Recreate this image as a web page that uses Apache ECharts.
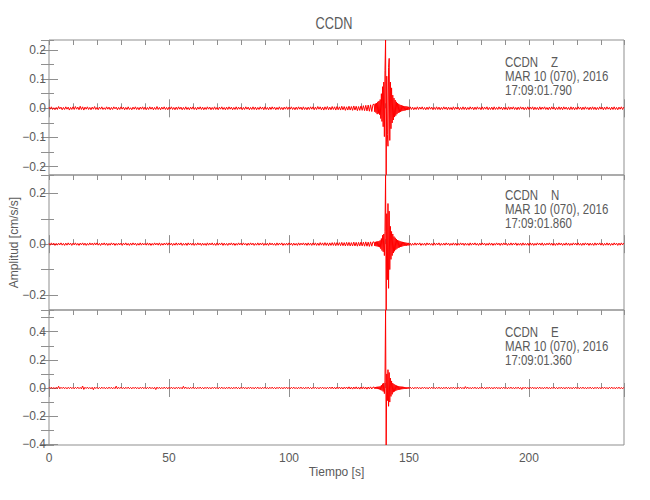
<!DOCTYPE html>
<html><head><meta charset="utf-8">
<script src="https://cdn.jsdelivr.net/npm/echarts@6/dist/echarts.min.js"></script>
<style>html,body{margin:0;padding:0;background:#fff}#c{width:650px;height:500px}</style>
</head><body><div id="c"></div>
<script>
// ---------------- data ----------------
const stationName = 'CCDN';
const channels = ['Z', 'N', 'E'];
const dateText = 'MAR 10 (070), 2016';
const startTimes = ['17:09:01.790', '17:09:01.860', '17:09:01.360'];
const xAxisTitle = 'Tiempo [s]';
const yAxisTitle = 'Amplitud [cm/s/s]';

const xMin = 0, xMax = 239.6;
const xMajorStep = 50, xMinorStep = 10;
const yMins = [-0.2285, -0.2593, -0.405];
const yMaxs = [0.234, 0.2723, 0.554];
const yMajorSteps = [0.1, 0.2, 0.2];
const yMinorSteps = [0.05, 0.1, 0.1];

// sampling of the three trace segments (s)
const preStart = 0, preDt = 0.5;
const eventStart = 135.5, eventDt = 0.25;
const postStart = 150.5, postDt = 0.5;

// Z component (cm/s/s)
const zPre = [
.004,-.003,.005,-.004,.002,-.005,.003,-.004,.006,-.002,.004,-.005,.003,-.004,.005,-.003,.004,-.006,.003,-.004,
.005,-.004,.006,-.003,.004,-.005,.007,-.004,.005,-.006,.004,-.003,.005,-.004,.003,-.005,.004,-.003,.006,-.004,
.003,-.005,.004,-.003,.005,-.004,.002,-.004,.005,-.003,.004,-.005,.003,-.004,.005,-.002,.004,-.005,.003,-.004,
.005,-.003,.004,-.005,.003,-.004,.005,-.004,.002,-.005,.004,-.003,.005,-.004,.003,-.005,.004,-.003,.005,-.004,
.004,-.005,.003,-.004,.005,-.003,.004,-.005,.003,-.004,.006,-.004,.003,-.005,.004,-.003,.005,-.004,.003,-.005,
.004,-.003,.005,-.004,.003,-.005,.004,-.004,.005,-.003,.004,-.005,.003,-.004,.005,-.004,.003,-.005,.004,-.003,
.005,-.004,.003,-.005,.004,-.003,.005,-.004,.004,-.005,.003,-.004,.005,-.003,.004,-.005,.003,-.004,.005,-.004,
.003,-.005,.004,-.003,.005,-.004,.003,-.005,.004,-.004,.005,-.003,.004,-.005,.003,-.004,.005,-.004,.004,-.003,
.004,-.005,.003,-.004,.005,-.003,.004,-.005,.003,-.004,.005,-.004,.004,-.005,.003,-.004,.005,-.003,.004,-.005,
.005,-.004,.003,-.005,.004,-.004,.005,-.003,.004,-.005,.003,-.004,.005,-.004,.003,-.005,.004,-.003,.005,-.004,
.004,-.003,.005,-.004,.003,-.005,.004,-.004,.005,-.003,.004,-.005,.005,-.004,.003,-.005,.004,-.004,.005,-.003,
.005,-.005,.004,-.004,.006,-.003,.005,-.005,.004,-.006,.005,-.004,.006,-.005,.004,-.005,.006,-.004,.005,-.006,
.006,-.005,.005,-.006,.007,-.005,.006,-.007,.005,-.006,.007,-.006,.006,-.007,.008,-.006,.007,-.008,.006,-.007,
.008,-.007,.009,-.008,.010,-.009,.011,-.010,.012,-.011,.013];
const zEvent = [
.014,-.012,.016,-.015,.018,-.020,.022,-.018,.025,-.022,
.030,-.035,.050,-.045,.074,-.063,.090,-.097,.130,.234,
-.228,.110,-.090,-.130,.140,.171,-.110,.090,-.070,.070,
-.050,.045,-.040,.035,-.030,.028,-.025,.022,-.020,.018,
-.016,.015,-.014,.012,-.012,.011,-.010,.009,-.009,.008,
-.008,.007,-.007,.007,-.006,.006,-.006,.005,-.005];
const zPost = [
.005,-.004,.004,-.005,.003,-.004,.005,-.004,.004,-.003,.005,-.004,.003,-.005,.004,-.004,.005,-.003,.004,-.005,
.003,-.004,.005,-.004,.004,-.005,.003,-.004,.005,-.003,.004,-.005,.004,-.004,.003,-.005,.005,-.004,.004,-.003,
.004,-.005,.003,-.004,.005,-.004,.004,-.005,.003,-.004,.005,-.003,.004,-.005,.004,-.004,.005,-.003,.003,-.005,
.005,-.004,.004,-.003,.005,-.005,.003,-.004,.004,-.005,.005,-.004,.003,-.004,.005,-.003,.004,-.005,.004,-.004,
.003,-.005,.005,-.004,.004,-.003,.005,-.004,.003,-.005,.004,-.004,.005,-.003,.004,-.005,.003,-.004,.005,-.004,
.004,-.003,.005,-.005,.004,-.004,.003,-.005,.005,-.004,.004,-.003,.005,-.004,.003,-.005,.004,-.004,.005,-.003,
.004,-.005,.003,-.004,.005,-.004,.004,-.005,.005,-.003,.004,-.004,.003,-.005,.005,-.004,.004,-.005,.003,-.004,
.005,-.003,.004,-.005,.004,-.004,.005,-.003,.003,-.005,.004,-.004,.005,-.004,.004,-.005,.003,-.004,.005,-.003,
.004,-.005,.004,-.004,.005,-.003,.003,-.005,.004,-.004,.005,-.004,.003,-.005,.004,-.003,.005,-.004,.004];

// N component
const nPre = [
.003,-.004,.005,-.003,.004,-.005,.003,-.004,.004,-.003,.005,-.004,.003,-.005,.004,-.004,.005,-.003,.004,-.005,
.004,-.003,.005,-.004,.003,-.005,.004,-.003,.005,-.004,.004,-.005,.003,-.004,.005,-.003,.004,-.004,.005,-.003,
.005,-.004,.003,-.005,.004,-.003,.005,-.004,.004,-.005,.003,-.004,.005,-.003,.004,-.005,.003,-.004,.004,-.003,
.004,-.005,.004,-.003,.005,-.004,.003,-.005,.004,-.004,.005,-.003,.004,-.005,.003,-.004,.005,-.004,.004,-.003,
.003,-.004,.005,-.004,.004,-.005,.003,-.004,.005,-.003,.004,-.004,.005,-.005,.003,-.004,.004,-.003,.005,-.004,
.005,-.003,.004,-.005,.003,-.004,.005,-.004,.004,-.003,.005,-.005,.003,-.004,.004,-.005,.005,-.003,.004,-.004,
.004,-.005,.003,-.004,.005,-.003,.004,-.005,.004,-.004,.003,-.005,.005,-.004,.004,-.003,.005,-.004,.003,-.005,
.005,-.004,.004,-.003,.005,-.005,.004,-.004,.003,-.005,.004,-.003,.005,-.004,.004,-.005,.003,-.004,.005,-.003,
.004,-.004,.005,-.003,.003,-.005,.004,-.004,.005,-.003,.004,-.005,.003,-.004,.005,-.004,.004,-.003,.005,-.005,
.003,-.004,.004,-.005,.005,-.003,.004,-.004,.003,-.005,.005,-.004,.004,-.003,.005,-.005,.003,-.004,.004,-.004,
.005,-.003,.004,-.005,.004,-.004,.003,-.005,.005,-.004,.004,-.003,.005,-.004,.004,-.005,.005,-.004,.004,-.005,
.005,-.004,.005,-.005,.004,-.005,.006,-.004,.005,-.005,.006,-.005,.005,-.006,.005,-.005,.006,-.005,.006,-.006,
.006,-.005,.006,-.006,.007,-.006,.006,-.007,.007,-.006,.007,-.007,.006,-.007,.008,-.007,.007,-.008,.007,-.007,
.008,-.007,.008,-.008,.009,-.008,.008,-.009,.009,-.008,.009];
const nEvent = [
.008,-.007,.009,-.008,.010,-.009,.011,-.010,.012,-.012,
.015,-.018,.022,-.025,.035,-.030,.040,-.045,.050,.272,
-.259,.120,-.140,.160,-.174,.130,-.100,.070,-.060,.050,
-.045,.040,-.035,.030,-.028,.025,-.022,.020,-.018,.016,
-.015,.014,-.013,.012,-.011,.010,-.010,.009,-.008,.008,
-.007,.007,-.006,.006,-.006,.005,-.005,.005,-.005];
const nPost = [
.004,-.005,.003,-.004,.005,-.004,.004,-.003,.005,-.005,.003,-.004,.004,-.005,.005,-.003,.004,-.004,.003,-.005,
.005,-.004,.004,-.003,.005,-.005,.003,-.004,.004,-.004,.005,-.003,.004,-.005,.003,-.004,.005,-.004,.004,-.005,
.003,-.004,.005,-.003,.004,-.005,.004,-.004,.003,-.005,.005,-.004,.004,-.003,.005,-.004,.003,-.005,.004,-.004,
.005,-.003,.004,-.005,.003,-.004,.005,-.004,.004,-.005,.003,-.004,.005,-.003,.004,-.005,.004,-.004,.005,-.003,
.004,-.005,.003,-.004,.005,-.004,.004,-.003,.005,-.005,.003,-.004,.004,-.005,.005,-.004,.003,-.004,.004,-.005,
.005,-.004,.004,-.005,.003,-.004,.005,-.003,.004,-.004,.005,-.005,.003,-.004,.004,-.003,.005,-.004,.004,-.005,
.003,-.005,.004,-.004,.005,-.003,.004,-.005,.003,-.004,.005,-.004,.004,-.005,.003,-.004,.005,-.003,.004,-.004,
.005,-.004,.003,-.005,.004,-.004,.005,-.003,.004,-.005,.004,-.004,.003,-.005,.005,-.004,.004,-.003,.005,-.004,
.004,-.005,.003,-.004,.005,-.004,.004,-.005,.003,-.004,.005,-.003,.004,-.005,.004,-.004,.005,-.003,.004];

// E component
const ePre = [
.005,-.004,.006,-.005,.004,-.006,.005,-.004,.012,-.006,.005,-.004,.006,-.005,.004,-.006,.005,-.004,.006,-.005,
.004,-.006,.005,-.004,.006,-.005,.004,-.006,.014,-.010,.005,-.004,.006,-.005,.004,-.006,.005,-.012,.006,-.004,
.005,-.006,.004,-.005,.006,-.004,.005,-.006,.004,-.005,.006,-.004,.005,-.006,.004,-.005,.013,-.006,.005,-.004,
.006,-.005,.004,-.006,.005,-.004,.006,-.005,.004,-.006,.005,-.004,.006,-.005,.004,-.006,.005,-.004,.006,-.005,
.004,-.006,.005,-.004,.006,-.005,.004,-.006,.005,-.011,.006,-.004,.005,-.006,.004,-.005,.006,-.004,.005,-.006,
.005,-.004,.006,-.005,.004,-.006,.005,-.004,.006,-.005,.004,-.006,.012,-.004,.006,-.005,.004,-.006,.005,-.004,
.006,-.005,.004,-.006,.005,-.004,.006,-.005,.004,-.006,.005,-.004,.006,-.005,.004,-.006,.005,-.004,.006,-.005,
.004,-.006,.005,-.004,.006,-.005,.004,-.006,.005,-.004,.006,-.005,.004,-.006,.005,-.004,.006,-.005,.004,-.006,
.005,-.004,.006,-.005,.004,-.006,.005,-.004,.006,-.005,.004,-.006,.005,-.004,.006,-.005,.004,-.006,.005,-.004,
.006,-.005,.004,-.006,.005,-.004,.006,-.005,.004,-.006,.005,-.004,.006,-.005,.004,-.006,.005,-.004,.006,-.005,
.004,-.006,.005,-.004,.006,-.005,.004,-.006,.005,-.004,.006,-.005,.004,-.006,.005,-.004,.006,-.005,.004,-.006,
.005,-.004,.006,-.005,.004,-.006,.005,-.004,.006,-.005,.004,-.006,.005,-.004,.006,-.005,.007,-.006,.005,-.007,
.006,-.005,.007,-.006,.005,-.007,.006,-.005,.007,-.006,.008,-.007,.006,-.008,.007,-.006,.008,-.007,.006,-.008,
.007,-.006,.008,-.007,.006,-.008,.007,-.006,.008,-.007,.006];
const eEvent = [
.006,-.005,.007,-.006,.008,-.007,.009,-.008,.010,-.010,
.012,-.015,.020,-.018,.030,-.025,.035,-.040,.050,.554,
-.405,.100,-.090,.130,-.130,.110,-.100,.070,-.060,.050,
-.045,.035,-.030,.028,-.025,.022,-.020,.018,-.016,.015,
-.014,.013,-.012,.011,-.010,.010,-.009,.009,-.008,.008,
-.007,.007,-.006,.006,-.006,.005,-.005,.005,-.005];
const ePost = [
.006,-.005,.004,-.006,.005,-.004,.006,-.005,.004,-.006,.005,-.004,.006,-.005,.004,-.006,.005,-.004,.006,-.005,
.004,-.006,.005,-.004,.006,-.005,.004,-.006,.005,-.004,.006,-.005,.004,-.006,.005,-.004,.006,-.005,.004,-.006,
.005,-.004,.006,-.005,.004,-.006,.010,-.004,.006,-.005,.004,-.006,.005,-.004,.006,-.005,.004,-.006,.005,-.004,
.006,-.005,.004,-.006,.005,-.004,.006,-.005,.004,-.006,.005,-.004,.006,-.005,.004,-.006,.005,-.004,.006,-.005,
.004,-.006,.005,-.004,.006,-.005,.004,-.006,.005,-.004,.006,-.005,.004,-.010,.005,-.004,.006,-.005,.004,-.006,
.005,-.004,.006,-.005,.004,-.006,.005,-.004,.006,-.005,.004,-.006,.005,-.004,.006,-.005,.004,-.006,.005,-.004,
.006,-.005,.004,-.006,.005,-.004,.006,-.005,.004,-.006,.005,-.004,.006,-.005,.004,-.006,.005,-.004,.006,-.005,
.004,-.006,.005,-.004,.006,-.005,.004,-.006,.005,-.004,.006,-.005,.004,-.006,.005,-.004,.006,-.005,.004,-.006,
.005,-.004,.006,-.005,.004,-.006,.005,-.004,.006,-.005,.004,-.006,.005,-.004,.006,-.005,.004,-.006,.005];

// ---------------- build ----------------
function segment(t0, dt, vals) { return vals.map((v, i) => [t0 + i * dt, v]); }
function trace(pre, ev, post) {
  return segment(preStart, preDt, pre)
    .concat(segment(eventStart, eventDt, ev))
    .concat(segment(postStart, postDt, post));
}
const traces = [trace(zPre, zEvent, zPost), trace(nPre, nEvent, nPost), trace(ePre, eEvent, ePost)];

const FONT = "'Liberation Sans', Arial, sans-serif";
const axisGray = '#8f8f8f';
const textGray = '#5a5a5a';
const gridTops = [40, 175, 310];
const gridH = 135, gridLeft = 49, gridW = 575;

const grids = [], xAxes = [], yAxes = [], series = [];
function fmtY(v) { return (Math.round(v * 10) / 10).toFixed(1).replace('-', '\u2212'); }

for (let g = 0; g < 3; g++) {
  grids.push({left: gridLeft, top: gridTops[g], width: gridW, height: gridH,
    show: true, borderColor: axisGray, borderWidth: 1, backgroundColor: 'transparent',
    containLabel: false, outerBoundsMode: 'none'});
  const xa = (pos, step, len, labels) => ({
    type: 'value', gridIndex: g, position: pos, min: xMin, max: xMax, interval: step,
    axisLine: {show: false}, splitLine: {show: false},
    axisTick: {show: true, inside: true, length: len, lineStyle: {color: axisGray, width: 1}},
    axisLabel: {show: labels, showMaxLabel: false, margin: 7, fontSize: 12, fontFamily: FONT, color: textGray},
    name: (labels ? xAxisTitle : ''), nameLocation: 'middle', nameGap: 21, nameMoveOverlap: false,
    nameTextStyle: {fontSize: 12, fontFamily: FONT, color: textGray}
  });
  xAxes.push(xa('bottom', xMajorStep, 9, g === 2));
  xAxes.push(xa('bottom', xMinorStep, 5, false));
  xAxes.push(xa('top', xMajorStep, 9, false));
  xAxes.push(xa('top', xMinorStep, 5, false));
  const ya = (pos, step, len, labels, split) => ({
    type: 'value', gridIndex: g, position: pos, min: yMins[g], max: yMaxs[g],
    splitNumber: split, minInterval: step, maxInterval: step,
    axisLine: {show: false}, splitLine: {show: false},
    axisTick: {show: true, inside: true, length: len, lineStyle: {color: axisGray, width: 1}},
    axisLabel: {show: labels, showMinLabel: false, showMaxLabel: false, margin: 3, fontSize: 12,
      fontFamily: FONT, color: textGray, formatter: fmtY},
    name: (labels && g === 1 ? yAxisTitle : ''), nameLocation: 'middle', nameGap: 29, nameRotate: 90,
    nameMoveOverlap: false,
    nameTextStyle: {fontSize: 12, fontFamily: FONT, color: textGray}
  });
  yAxes.push(ya('left', yMajorSteps[g], 9, true, 4));
  yAxes.push(ya('left', yMinorSteps[g], 5, false, 8));
  yAxes.push(ya('right', yMinorSteps[g], 8, false, 8));
  series.push({type: 'line', xAxisIndex: 4 * g, yAxisIndex: 3 * g, data: traces[g],
    showSymbol: false, symbol: 'none', sampling: null, silent: true, clip: true,
    lineStyle: {color: '#ff0000', width: 1}, animation: false});
}

const annTops = [54.7, 188, 324.7];
const graphic = channels.map((ch, g) => ({
  type: 'text', x: 505, y: annTops[g], scaleX: 0.82, silent: true,
  style: {text: [stationName + '\u00a0\u00a0\u00a0\u00a0' + ch, dateText, startTimes[g]].join('\n'),
    font: '14px ' + FONT, fill: textGray, lineHeight: 14, textAlign: 'left', textVerticalAlign: 'top', verticalAlign: 'top'}
}));
graphic.push({type: 'text', x: 334, y: 23, scaleX: 0.75, silent: true,
  style: {text: stationName, font: '17px ' + FONT, fill: textGray, textAlign: 'center',
    textVerticalAlign: 'middle', verticalAlign: 'middle'}});

const chart = echarts.init(document.getElementById('c'), null, {renderer: 'svg'});
chart.setOption({
  animation: false,
  backgroundColor: '#ffffff',
  grid: grids, xAxis: xAxes, yAxis: yAxes, series: series, graphic: graphic
});
</script></body></html>
